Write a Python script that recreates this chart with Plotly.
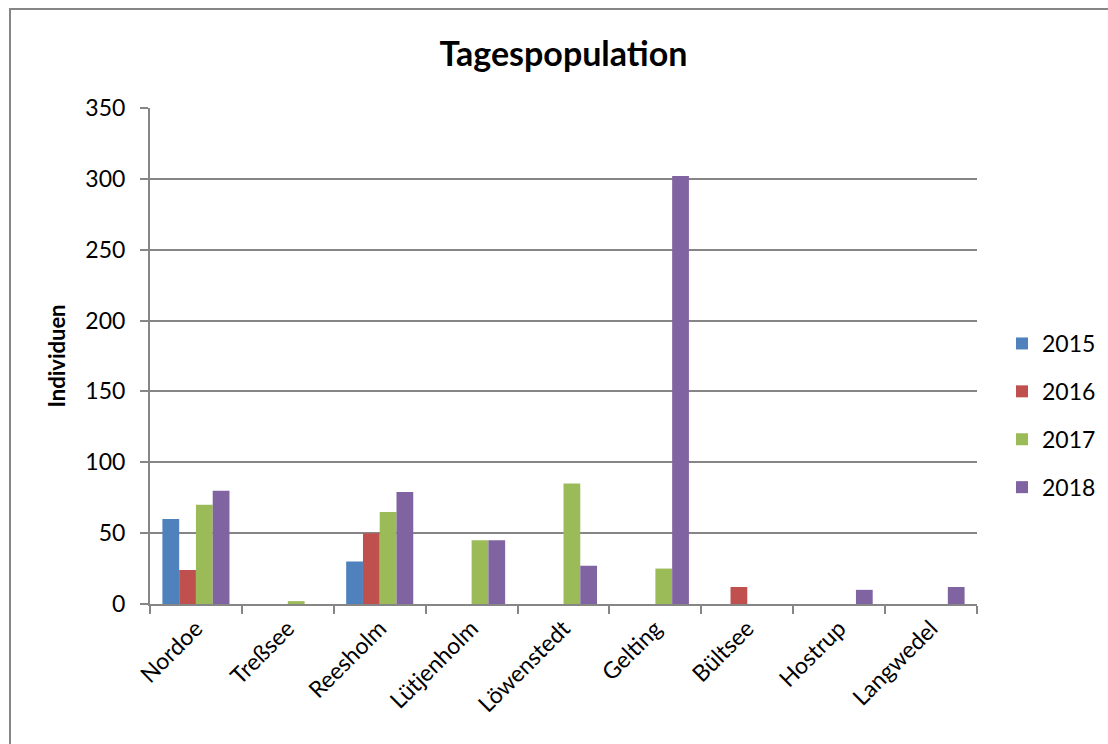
import plotly.graph_objects as go

categories = ["Nordoe", "Treßsee", "Reesholm", "Lütjenholm", "Löwenstedt",
              "Gelting", "Bültsee", "Hostrup", "Langwedel"]
years = ["2015", "2016", "2017", "2018"]
v2015 = [60, 0, 30, 0, 0, 0, 0, 0, 0]
v2016 = [24, 0, 50, 0, 0, 0, 12, 0, 0]
v2017 = [70, 2, 65, 45, 85, 25, 0, 0, 0]
v2018 = [80, 0, 79, 45, 27, 302, 0, 10, 12]
series = [v2015, v2016, v2017, v2018]
colors = ["#4F81BD", "#C0504D", "#9BBB59", "#8064A2"]
yticks = [0, 50, 100, 150, 200, 250, 300, 350]

FONT = "Lato, 'Open Sans', sans-serif"

fig = go.Figure()
for name, vals, col in zip(years, series, colors):
    fig.add_trace(go.Bar(
        x=categories, y=vals, name=name, legendgroup=name,
        marker=dict(color=col, line=dict(width=0)),
    ))

W, H = 1108, 744
L, R, T, B = 150, 131, 108, 140
pw, ph = W - L - R, H - T - B

def px2paper_x(px):
    return (px - L) / pw

def px2paper_y(py):
    return (H - B - py) / ph

fig.update_layout(
    width=W, height=H,
    margin=dict(l=L, r=R, t=T, b=B, autoexpand=False),
    paper_bgcolor="white", plot_bgcolor="white",
    barmode="group", bargap=0.27, bargroupgap=0,
    font=dict(family=FONT, size=23, color="black"),
    title=dict(text="<b>Tagespopulation</b>", x=0.5085, xanchor="center",
               y=1 - 54 / H, yanchor="middle",
               font=dict(family=FONT, size=34, color="black")),
    legend=dict(x=px2paper_x(1002), xanchor="left", y=px2paper_y(322), yanchor="top",
                font=dict(family=FONT, size=23), tracegroupgap=15,
                itemwidth=30, bgcolor="rgba(0,0,0,0)"),
    xaxis=dict(type="category", tickangle=-45, tickson="boundaries",
               ticks="outside", ticklen=8, tickcolor="#868686", tickwidth=2,
               showline=True, linecolor="#868686", linewidth=2,
               showgrid=False, tickfont=dict(family=FONT, size=23)),
    yaxis=dict(range=[0, 350], tickvals=yticks, ticks="outside", ticklen=8,
               tickcolor="#868686", tickwidth=2, ticklabelstandoff=10,
               showline=True, linecolor="#868686", linewidth=2,
               showgrid=True, gridcolor="#868686", gridwidth=2,
               zeroline=False,
               title=dict(text="<b>Individuen</b>", standoff=14,
                          font=dict(family=FONT, size=22)),
               tickfont=dict(family=FONT, size=23)),
    shapes=[dict(type="rect", xref="paper", yref="paper",
                 x0=px2paper_x(10), x1=px2paper_x(1120),
                 y0=px2paper_y(760), y1=px2paper_y(9),
                 line=dict(color="#868686", width=2), layer="below")],
)

fig.write_html("out.html")
